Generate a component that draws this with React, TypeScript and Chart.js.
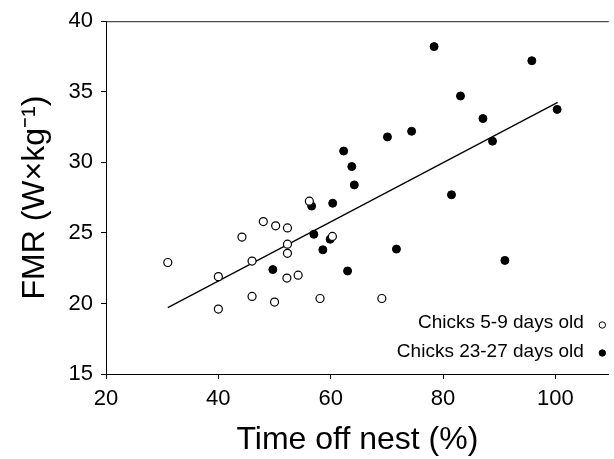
import React, { useEffect, useRef } from "react";
import { Chart, registerables } from "chart.js";

Chart.register(...registerables);

// Chicks 5-9 days old (open circles)
const youngX = [31, 40, 40, 44.2, 46, 46, 48, 50.2, 50, 52.3, 52.3, 52.3, 52.2, 54.2, 56.2, 58.1, 60.3, 69.1];
const youngY = [22.9, 21.9, 19.6, 24.7, 23.0, 20.5, 25.8, 25.5, 20.1, 25.35, 24.2, 23.55, 21.8, 22.0, 27.25, 20.35, 24.75, 20.35];

// Chicks 23-27 days old (filled circles)
const oldX = [49.7, 56.6, 57.0, 58.6, 59.9, 60.35, 62.3, 63.0, 63.75, 64.2, 70.1, 71.7, 74.4, 78.4, 81.5, 83.1, 87.1, 88.8, 91.0, 95.8, 100.3];
const oldY = [22.4, 26.9, 24.9, 23.8, 24.55, 27.1, 30.8, 22.3, 29.7, 28.4, 31.8, 23.85, 32.2, 38.2, 27.7, 34.7, 33.1, 31.5, 23.05, 37.2, 33.75];

// Regression line end points
const fitX = [31, 100.4];
const fitY = [19.7, 34.25];

const seriesLabels = ["Chicks 5-9 days old", "Chicks 23-27 days old"];
const xTicks = [20, 40, 60, 80, 100];
const yTicks = [15, 20, 25, 30, 35, 40];
const xTitle = "Time off nest (%)";
const yTitle = "FMR (W×kg⁻¹)";

const FONT = '"Liberation Sans", Arial, Helvetica, sans-serif';

const toPoints = (xs: number[], ys: number[]) => xs.map((x, i) => ({ x, y: ys[i] }));

const frameAndLegend = {
  id: "frameAndLegend",
  afterDraw(chart: any) {
    const { ctx, chartArea } = chart;
    ctx.save();
    // top frame line
    ctx.strokeStyle = "#222";
    ctx.lineWidth = 1;
    ctx.beginPath();
    ctx.moveTo(chartArea.left, chartArea.top + 0.5);
    ctx.lineTo(chartArea.right, chartArea.top + 0.5);
    ctx.stroke();

    // legend (text on the left, marker on the right)
    ctx.font = `19px ${FONT}`;
    ctx.textAlign = "right";
    ctx.textBaseline = "middle";
    ctx.fillStyle = "#000";
    const textRight = chartArea.right - 25;
    const markerX = chartArea.right - 6.5;
    const rowsText = [chartArea.bottom - 51, chartArea.bottom - 22.5];
    const rowsMark = [chartArea.bottom - 49, chartArea.bottom - 21];
    chart.data.datasets.slice(0, 2).forEach((ds: any, i: number) => {
      ctx.fillStyle = "#000";
      ctx.fillText(ds.label, textRight, rowsText[i]);
      ctx.beginPath();
      ctx.arc(markerX, rowsMark[i], 3.2, 0, Math.PI * 2);
      ctx.fillStyle = ds.backgroundColor;
      ctx.fill();
      ctx.strokeStyle = "#000";
      ctx.lineWidth = 1;
      ctx.stroke();
    });
    ctx.restore();
  },
};

export default function App() {
  const ref = useRef<HTMLCanvasElement | null>(null);

  useEffect(() => {
    if (!ref.current) return;
    const chart = new Chart(ref.current, {
      type: "scatter",
      data: {
        datasets: [
          {
            label: seriesLabels[0],
            data: toPoints(youngX, youngY),
            backgroundColor: "#ffffff",
            borderColor: "#000000",
            borderWidth: 1.2,
            pointRadius: 4,
          },
          {
            label: seriesLabels[1],
            data: toPoints(oldX, oldY),
            backgroundColor: "#000000",
            borderColor: "#000000",
            borderWidth: 1,
            pointRadius: 4,
          },
          {
            type: "line",
            label: "fit",
            data: toPoints(fitX, fitY),
            borderColor: "#000000",
            borderWidth: 1.3,
            pointRadius: 0,
            showLine: true,
            fill: false,
          } as any,
        ],
      },
      options: {
        animation: false,
        responsive: false,
        devicePixelRatio: 1,
        layout: { padding: { top: 19, right: 0, left: 0, bottom: 0 } },
        plugins: {
          legend: { display: false },
          tooltip: { enabled: false },
        },
        scales: {
          x: {
            type: "linear",
            min: 20,
            max: 109.5,
            afterBuildTicks: (s: any) => {
              s.ticks = xTicks.map((v) => ({ value: v }));
            },
            afterFit: (s: any) => {
              s.height = 85;
            },
            grid: { drawOnChartArea: false, drawTicks: true, tickLength: 5, color: "#000", lineWidth: 1 },
            border: { display: true, color: "#000", width: 1 },
            ticks: { color: "#000", font: { family: FONT, size: 22 }, padding: 7, maxRotation: 0 },
            title: {
              display: true,
              text: xTitle,
              color: "#000",
              font: { family: FONT, size: 32 },
              padding: { top: 0, bottom: 0 },
            },
          },
          y: {
            type: "linear",
            min: 15,
            max: 40,
            afterBuildTicks: (s: any) => {
              s.ticks = yTicks.map((v) => ({ value: v }));
            },
            afterFit: (s: any) => {
              s.width = 106;
            },
            grid: { drawOnChartArea: false, drawTicks: true, tickLength: 5, color: "#000", lineWidth: 1 },
            border: { display: true, color: "#000", width: 1 },
            ticks: { color: "#000", font: { family: FONT, size: 22 }, padding: 8 },
            title: {
              display: true,
              text: yTitle,
              color: "#000",
              font: { family: FONT, size: 32 },
              padding: { top: 16, bottom: 0 },
            },
          },
        },
      },
      plugins: [frameAndLegend],
    });
    return () => chart.destroy();
  }, []);

  return (
    <div style={{ position: "fixed", left: 0, top: 0, width: 614, height: 459, background: "#fff" }}>
      <canvas ref={ref} width={614} height={459} style={{ display: "block" }} />
    </div>
  );
}
